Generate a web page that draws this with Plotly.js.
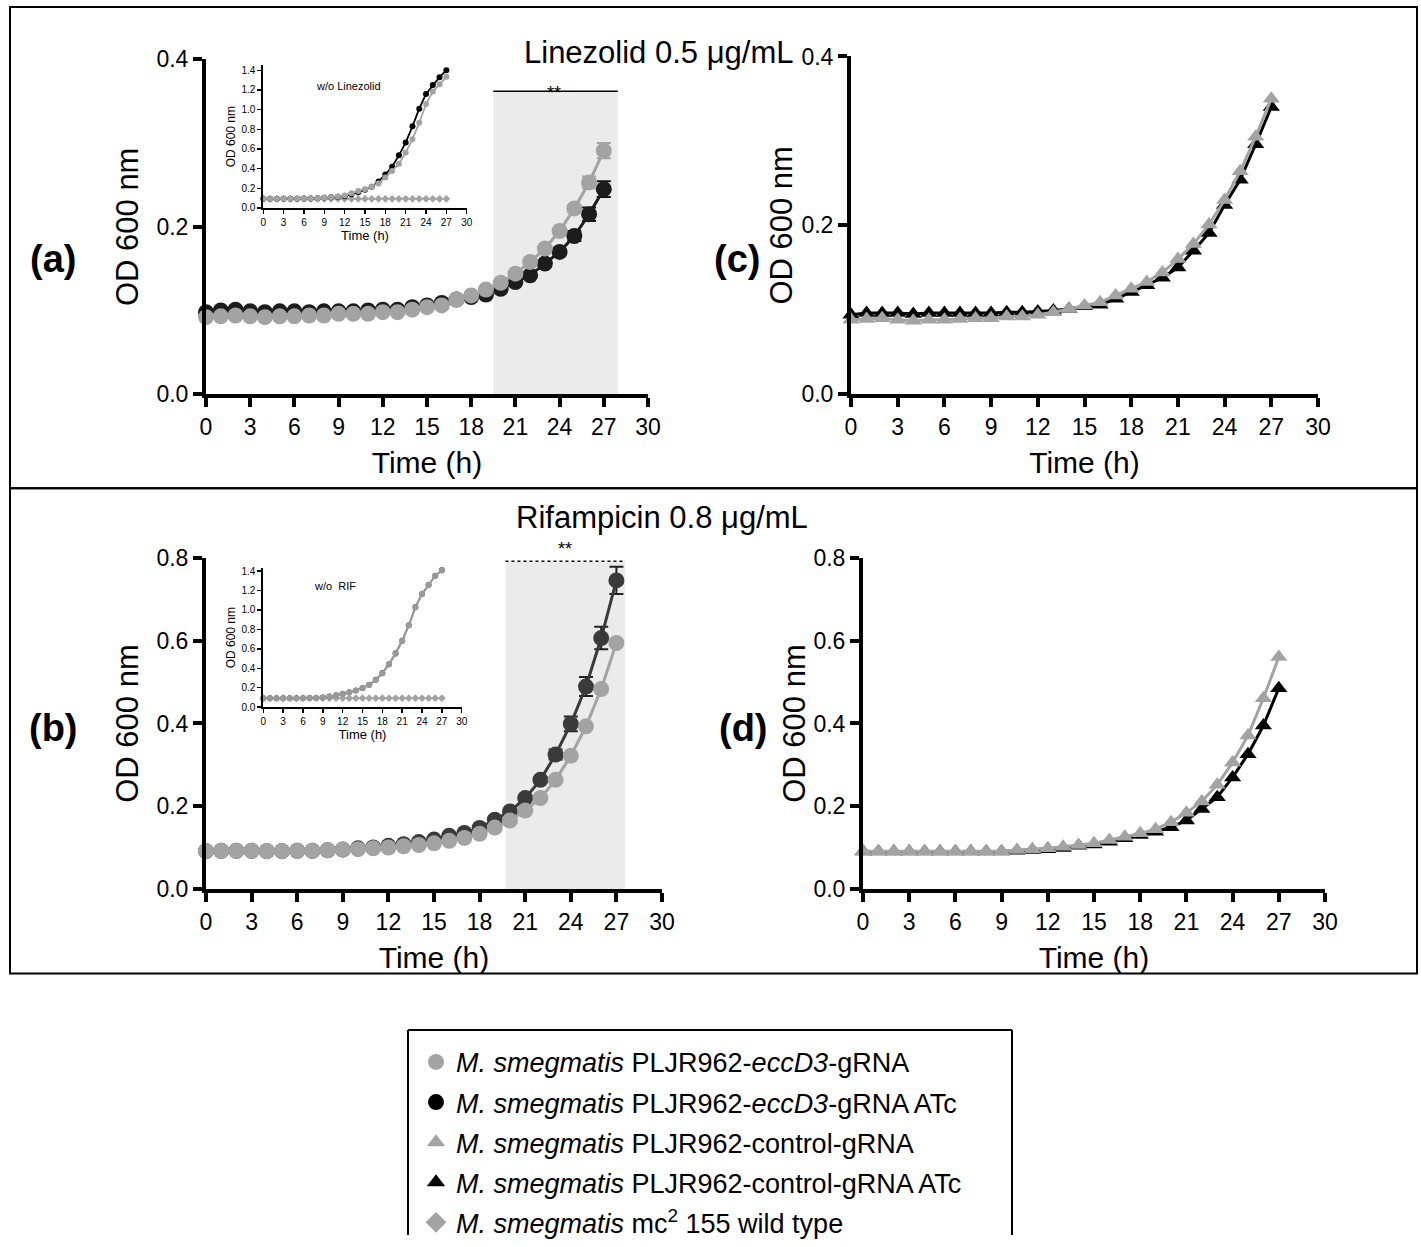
<!DOCTYPE html>
<html><head><meta charset="utf-8">
<script src="https://cdn.plot.ly/plotly-3.0.1.min.js"></script>
<style>html,body{margin:0;padding:0;background:#fff}#chart{display:block;width:1421px;height:1247px}</style>
</head><body><div id="chart"></div>
<script>
// ---------- DATA ----------
const hours = [0,1,2,3,4,5,6,7,8,9,10,11,12,13,14,15,16,17,18,19,20,21,22,23,24,25,26,27];
const xTicks = [0,3,6,9,12,15,18,21,24,27,30];

// (a) Linezolid 0.5 ug/mL
const lzdEccD3     = [0.092,0.093,0.094,0.093,0.092,0.093,0.093,0.094,0.094,0.096,0.096,0.096,0.098,0.098,0.101,0.104,0.106,0.113,0.118,0.125,0.133,0.144,0.158,0.174,0.195,0.222,0.253,0.291];
const lzdEccD3Err  = [null,null,null,null,null,null,null,null,null,null,null,null,null,null,null,null,null,null,null,null,null,null,null,null,null,0.004,0.007,0.009];
const lzdEccD3ATc  = [0.098,0.100,0.101,0.099,0.098,0.099,0.099,0.098,0.099,0.099,0.099,0.100,0.101,0.101,0.104,0.106,0.109,0.113,0.116,0.119,0.126,0.134,0.142,0.156,0.170,0.189,0.215,0.245];
const lzdEccD3ATcErr = [null,null,null,null,null,null,null,null,null,null,null,null,null,null,null,null,null,null,null,null,null,null,null,null,null,0.006,0.008,0.0095];
// (c) Linezolid controls
const lzdControl    = [0.088,0.089,0.090,0.088,0.087,0.088,0.088,0.089,0.090,0.090,0.092,0.092,0.094,0.097,0.101,0.105,0.109,0.117,0.125,0.133,0.144,0.160,0.178,0.201,0.230,0.264,0.305,0.350];
const lzdControlATc = [0.094,0.096,0.096,0.096,0.095,0.096,0.096,0.096,0.096,0.096,0.097,0.097,0.098,0.099,0.101,0.104,0.106,0.113,0.121,0.129,0.138,0.150,0.170,0.191,0.224,0.254,0.296,0.340];
// (b) Rifampicin 0.8 ug/mL
const rifEccD3     = [0.092,0.093,0.093,0.093,0.092,0.092,0.093,0.093,0.094,0.096,0.097,0.099,0.101,0.104,0.107,0.111,0.117,0.124,0.134,0.149,0.166,0.190,0.220,0.264,0.322,0.393,0.483,0.594];
const rifEccD3ATc  = [0.092,0.093,0.093,0.093,0.092,0.092,0.093,0.093,0.094,0.096,0.099,0.101,0.105,0.109,0.114,0.120,0.129,0.136,0.148,0.168,0.188,0.220,0.264,0.325,0.399,0.489,0.606,0.745];
const rifEccD3ATcErr = [null,null,null,null,null,null,null,null,null,null,null,null,null,null,null,null,null,null,null,null,null,null,null,0.012,0.018,0.023,0.027,0.033];
// (d) Rifampicin controls
const rifControl    = [0.092,0.092,0.092,0.092,0.092,0.092,0.092,0.092,0.092,0.092,0.095,0.097,0.099,0.103,0.107,0.111,0.119,0.127,0.135,0.145,0.162,0.185,0.212,0.252,0.306,0.371,0.461,0.560];
const rifControlATc = [0.091,0.091,0.091,0.091,0.091,0.091,0.091,0.091,0.091,0.091,0.093,0.095,0.097,0.100,0.105,0.108,0.115,0.123,0.131,0.139,0.150,0.166,0.194,0.222,0.270,0.326,0.395,0.485];
// inset (a): without Linezolid
const noLzdEccD3    = [0.093,0.093,0.093,0.094,0.094,0.095,0.096,0.097,0.099,0.103,0.110,0.117,0.127,0.150,0.173,0.190,0.217,0.250,0.310,0.377,0.450,0.563,0.700,0.867,1.057,1.183,1.257,1.333];
const noLzdEccD3ATc = [0.093,0.093,0.093,0.094,0.094,0.095,0.096,0.097,0.099,0.103,0.108,0.113,0.120,0.140,0.160,0.185,0.215,0.270,0.340,0.420,0.535,0.665,0.830,1.010,1.160,1.250,1.330,1.400];
const noLzdWildType = [0.093,0.093,0.093,0.093,0.093,0.093,0.093,0.093,0.093,0.093,0.093,0.093,0.093,0.093,0.093,0.093,0.093,0.093,0.093,0.093,0.093,0.093,0.093,0.093,0.093,0.093,0.093,0.093];
// inset (b): without RIF
const noRifEccD3    = [0.092,0.092,0.092,0.092,0.092,0.092,0.092,0.093,0.095,0.099,0.109,0.119,0.136,0.150,0.170,0.194,0.228,0.279,0.347,0.438,0.550,0.680,0.839,1.026,1.162,1.257,1.349,1.407];
const noRifEccD3ATc = [0.092,0.092,0.092,0.092,0.092,0.092,0.092,0.093,0.095,0.100,0.110,0.121,0.138,0.152,0.172,0.196,0.230,0.282,0.350,0.442,0.555,0.684,0.843,1.030,1.165,1.260,1.352,1.410];
const noRifWildType = [0.092,0.092,0.092,0.092,0.092,0.092,0.092,0.092,0.092,0.092,0.092,0.092,0.092,0.092,0.092,0.092,0.092,0.092,0.092,0.092,0.092,0.092,0.092,0.092,0.092,0.092,0.092,0.092];

const seriesNames = [
  '<i>M. smegmatis</i> PLJR962-<i>eccD3</i>-gRNA',
  '<i>M. smegmatis</i> PLJR962-<i>eccD3</i>-gRNA ATc',
  '<i>M. smegmatis</i> PLJR962-control-gRNA',
  '<i>M. smegmatis</i> PLJR962-control-gRNA ATc',
  '<i>M. smegmatis</i> mc<sup>2</sup> 155 wild type'
];

// ---------- STYLE / LAYOUT ----------
const W = 1421, H = 1247;
const FONT = 'Liberation Sans, Arial, sans-serif';
const GRAY = '#a3a3a3';
const px = v => v / W, py = v => 1 - v / H;

function series(x, y, ax, ay, color, symbol, size, lw, err, errColor) {
  const t = {x: x, y: y, xaxis: ax, yaxis: ay, mode: 'lines+markers', showlegend: false,
    cliponaxis: false, hoverinfo: 'x+y',
    line: {color: color, width: lw},
    marker: {color: color, symbol: symbol, size: size, line: {width: 0}}};
  if (err) t.error_y = {type: 'data', array: err, visible: true, color: errColor || color, thickness: 2, width: 7};
  return t;
}

const traces = [
  series(hours, lzdEccD3ATc, 'x', 'y', '#1c1c1c', 'circle', 16, 3, lzdEccD3ATcErr, '#111'),
  series(hours, lzdEccD3, 'x', 'y', GRAY, 'circle', 16, 3, lzdEccD3Err),
  series(hours, lzdControlATc, 'x2', 'y2', '#000', 'triangle-up', 15, 3),
  series(hours, lzdControl, 'x2', 'y2', GRAY, 'triangle-up', 15, 3),
  series(hours, rifEccD3ATc, 'x3', 'y3', '#3a3a3a', 'circle', 16, 3, rifEccD3ATcErr, '#222'),
  series(hours, rifEccD3, 'x3', 'y3', GRAY, 'circle', 16, 3),
  series(hours, rifControlATc, 'x4', 'y4', '#000', 'triangle-up', 15, 3),
  series(hours, rifControl, 'x4', 'y4', GRAY, 'triangle-up', 15, 3),
  series(hours, noLzdWildType, 'x5', 'y5', GRAY, 'diamond', 6, 1.5),
  series(hours, noLzdEccD3ATc, 'x5', 'y5', '#000', 'circle', 6, 1.8),
  series(hours, noLzdEccD3, 'x5', 'y5', GRAY, 'circle', 6, 1.8),
  series(hours, noRifWildType, 'x6', 'y6', GRAY, 'diamond', 6, 1.5),
  series(hours, noRifEccD3ATc, 'x6', 'y6', '#666', 'circle', 6, 1.8),
  series(hours, noRifEccD3, 'x6', 'y6', '#999', 'circle', 6, 1.8)
];

// legend keys
const keySymbols = ['circle', 'circle', 'triangle-up', 'triangle-up', 'diamond'];
const keyColors = [GRAY, '#000', GRAY, '#000', GRAY];
seriesNames.forEach((n, i) => traces.push({
  x: [null], y: [null], xaxis: 'x', yaxis: 'y', mode: 'markers', name: n, legendgroup: 'g' + i,
  showlegend: true, hoverinfo: 'skip',
  marker: {symbol: keySymbols[i], color: keyColors[i], size: 18, line: {width: 0}}
}));

function mainX(d, anchor) {
  return {domain: d, anchor: anchor, range: [0, 30], tickvals: xTicks, showline: true, linewidth: 4, linecolor: '#000',
    ticks: 'outside', ticklen: 9, tickwidth: 4, tickcolor: '#000', showgrid: false, zeroline: false,
    tickfont: {family: FONT, size: 23, color: '#000'}, fixedrange: true,
    title: {text: 'Time (h)', font: {family: FONT, size: 30, color: '#000'}, standoff: 14}};
}
function mainY(d, anchor, r, standoff) {
  return {domain: d, anchor: anchor, range: r, dtick: 0.2, tick0: 0, tickformat: '.1f', showline: true, linewidth: 4, linecolor: '#000',
    ticks: 'outside', ticklen: 9, tickwidth: 4, tickcolor: '#000', showgrid: false, zeroline: false,
    tickfont: {family: FONT, size: 23, color: '#000'}, fixedrange: true,
    title: {text: 'OD 600 nm', font: {family: FONT, size: 31, color: '#000'}, standoff: standoff}};
}
function insetX(d, anchor) {
  return {domain: d, anchor: anchor, range: [0, 30], tickvals: xTicks, showline: true, linewidth: 2, linecolor: '#000',
    ticks: 'outside', ticklen: 4, tickwidth: 1.5, tickcolor: '#000', showgrid: false, zeroline: false,
    tickfont: {family: FONT, size: 10, color: '#000'}, fixedrange: true,
    title: {text: 'Time (h)', font: {family: FONT, size: 13, color: '#000'}, standoff: 2}};
}
function insetY(d, anchor, r) {
  return {domain: d, anchor: anchor, range: r, dtick: 0.2, tick0: 0, tickformat: '.1f', showline: true, linewidth: 2, linecolor: '#000',
    ticks: 'outside', ticklen: 4, tickwidth: 1.5, tickcolor: '#000', showgrid: false, zeroline: false,
    tickfont: {family: FONT, size: 10, color: '#000'}, fixedrange: true,
    title: {text: 'OD 600 nm', font: {family: FONT, size: 12, color: '#000'}, standoff: 3}};
}

const paperLine = (x0, y0, x1, y1) => ({type: 'line', xref: 'paper', yref: 'paper', x0: px(x0), y0: py(y0), x1: px(x1), y1: py(y1), line: {color: '#000', width: 2}});

const layout = {
  width: W, height: H, margin: {l: 0, r: 0, t: 0, b: 0},
  paper_bgcolor: '#fff', plot_bgcolor: 'rgba(0,0,0,0)',
  font: {family: FONT, color: '#000'},
  xaxis:  mainX([px(206), px(648)], 'y'),
  yaxis:  mainY([py(398), py(60)], 'x', [0, 0.4], 10),
  xaxis2: mainX([px(851), px(1318)], 'y2'),
  yaxis2: mainY([py(398), py(57)], 'x2', [0, 0.4], 1),
  xaxis3: mainX([px(206), px(662)], 'y3'),
  yaxis3: mainY([py(898), py(563)], 'x3', [0, 0.8], 10),
  xaxis4: mainX([px(863), px(1325)], 'y4'),
  yaxis4: mainY([py(898), py(563)], 'x4', [0, 0.8], 0),
  xaxis5: insetX([px(263.3), px(466.7)], 'y5'),
  yaxis5: insetY([py(210), py(66)], 'x5', [0, 1.45]),
  xaxis6: insetX([px(263.3), px(461.7)], 'y6'),
  yaxis6: insetY([py(714), py(573.7)], 'x6', [0, 1.43]),
  showlegend: true,
  legend: {x: px(416), y: py(1048), xanchor: 'left', yanchor: 'top', bgcolor: 'rgba(0,0,0,0)',
    borderwidth: 0, font: {family: FONT, size: 27, color: '#000'},
    traceorder: 'grouped', tracegroupgap: 2, itemclick: false, itemdoubleclick: false},
  shapes: [
    {type: 'rect', xref: 'paper', yref: 'paper', x0: px(10), x1: px(1417), y0: py(493), y1: py(7), line: {color: '#000', width: 2}},
    {type: 'rect', xref: 'paper', yref: 'paper', x0: px(10), x1: px(1417), y0: py(983), y1: py(493), line: {color: '#000', width: 2}},
    paperLine(408, 1040, 1012, 1040),
    paperLine(408, 1040, 408, 1247),
    paperLine(1012, 1040, 1012, 1247),
    {type: 'rect', xref: 'x', yref: 'y', x0: 19.5, x1: 27.95, y0: 0, y1: 0.362, fillcolor: '#ebebeb', line: {width: 0}, layer: 'below'},
    {type: 'line', xref: 'x', yref: 'y', x0: 19.5, x1: 27.95, y0: 0.362, y1: 0.362, line: {color: '#000', width: 1.5}},
    {type: 'rect', xref: 'x3', yref: 'y3', x0: 19.7, x1: 27.57, y0: 0, y1: 0.791, fillcolor: '#ebebeb', line: {width: 0}, layer: 'below'},
    {type: 'line', xref: 'x3', yref: 'y3', x0: 19.7, x1: 27.57, y0: 0.791, y1: 0.791, line: {color: '#000', width: 1.5, dash: 'dot'}}
  ],
  annotations: [
    {xref: 'paper', yref: 'paper', x: px(658), y: py(33), xanchor: 'center', text: 'Linezolid 0.5 μg/mL', showarrow: false, font: {family: FONT, size: 31}},
    {xref: 'paper', yref: 'paper', x: px(662), y: py(523), xanchor: 'center', text: 'Rifampicin 0.8 μg/mL', showarrow: false, font: {family: FONT, size: 31}},
    {xref: 'paper', yref: 'paper', x: px(53), y: py(238), xanchor: 'center', text: '<b>(a)</b>', showarrow: false, font: {family: FONT, size: 38}},
    {xref: 'paper', yref: 'paper', x: px(53), y: py(735), xanchor: 'center', text: '<b>(b)</b>', showarrow: false, font: {family: FONT, size: 38}},
    {xref: 'paper', yref: 'paper', x: px(737), y: py(238), xanchor: 'center', text: '<b>(c)</b>', showarrow: false, font: {family: FONT, size: 38}},
    {xref: 'paper', yref: 'paper', x: px(743), y: py(735), xanchor: 'center', text: '<b>(d)</b>', showarrow: false, font: {family: FONT, size: 38}},
    {xref: 'paper', yref: 'paper', x: px(554), y: py(82), xanchor: 'center', text: '**', showarrow: false, font: {family: FONT, size: 18}},
    {xref: 'paper', yref: 'paper', x: px(565), y: py(554), xanchor: 'center', text: '**', showarrow: false, font: {family: FONT, size: 18}},
    {xref: 'x5', yref: 'y5', x: 12.5, y: 1.24, xanchor: 'center', text: 'w/o Linezolid', showarrow: false, font: {family: FONT, size: 11}},
    {xref: 'x6', yref: 'y6', x: 10.8, y: 1.25, xanchor: 'center', text: 'w/o  RIF', showarrow: false, font: {family: FONT, size: 11}}
  ]
};

Plotly.newPlot('chart', traces, layout, {displayModeBar: false, staticPlot: true});
</script>
</body></html>
